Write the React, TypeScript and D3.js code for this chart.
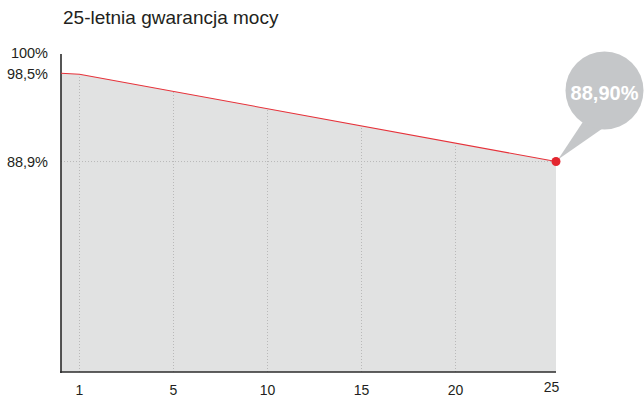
import { useEffect, useRef } from 'react';
import * as d3 from 'd3';

// warranty curve
const years = [0, 1, 25];
const power = [98.5, 98.4, 88.9];

const xTickYears = [1, 5, 10, 15, 20, 25];
const gridYears = [1, 5, 10, 15, 20];
const yTickValues = [98.5, 88.9];
const yTickLabels = ['98,5%', '88,9%'];
const topLabel = '100%';
const title = '25-letnia gwarancja mocy';
const bubbleLabel = '88,90%';

const FONT = '"Liberation Sans", Arial, Helvetica, sans-serif';

export default function App() {
  const svgRef = useRef<SVGSVGElement>(null);
  const width = 644;
  const height = 400;

  useEffect(() => {
    if (!svgRef.current) return;
    const svg = d3.select(svgRef.current);
    svg.selectAll('*').remove();

    // axis is not evenly spaced in the original, first step is short
    const x = d3.scaleLinear().domain([0, 1, 5, 20, 25]).range([61, 79.5, 173.5, 455.5, 556]);
    const y = d3.scaleLinear().domain([66, 100.6]).range([372, 54]);

    const pts = years.map((yr, i) => [yr, power[i]] as [number, number]);

    svg.append('rect').attr('width', width).attr('height', height).attr('fill', '#fff');

    svg
      .append('text')
      .attr('x', 63)
      .attr('y', 24)
      .attr('font-family', FONT)
      .attr('font-size', 19)
      .attr('fill', '#231f20')
      .text(title);

    // area under curve
    const area = d3
      .area<[number, number]>()
      .x((d) => x(d[0]))
      .y0(y.range()[0])
      .y1((d) => y(d[1]));
    svg.append('path').datum(pts).attr('d', area).attr('fill', '#e1e2e2');

    // grid
    const valueAt = (yr: number) => {
      const i = d3.bisectRight(years, yr) - 1;
      const j = Math.min(i + 1, years.length - 1);
      if (i === j) return power[i];
      const t = (yr - years[i]) / (years[j] - years[i]);
      return power[i] + (power[j] - power[i]) * t;
    };
    svg
      .append('g')
      .selectAll('line')
      .data(gridYears)
      .enter()
      .append('line')
      .attr('x1', (d) => x(d))
      .attr('x2', (d) => x(d))
      .attr('y1', y.range()[0])
      .attr('y2', (d) => y(valueAt(d)) + 2)
      .attr('stroke', '#b9b9b9')
      .attr('stroke-width', 1)
      .attr('stroke-dasharray', '1,2');

    svg
      .append('line')
      .attr('x1', x(0))
      .attr('x2', x(25))
      .attr('y1', y(88.9))
      .attr('y2', y(88.9))
      .attr('stroke', '#b9b9b9')
      .attr('stroke-width', 1)
      .attr('stroke-dasharray', '1,2');

    // axes
    svg
      .append('line')
      .attr('x1', x(0))
      .attr('x2', x(0))
      .attr('y1', y.range()[1])
      .attr('y2', y.range()[0] + 1)
      .attr('stroke', '#2b2b2b')
      .attr('stroke-width', 1.6);
    svg
      .append('line')
      .attr('x1', x(0) - 1)
      .attr('x2', x(25))
      .attr('y1', y.range()[0])
      .attr('y2', y.range()[0])
      .attr('stroke', '#2b2b2b')
      .attr('stroke-width', 1.6);

    // y labels
    svg
      .append('g')
      .selectAll('text')
      .data(yTickValues)
      .enter()
      .append('text')
      .attr('x', 48)
      .attr('y', (d) => y(d))
      .attr('dy', '0.36em')
      .attr('text-anchor', 'end')
      .attr('font-family', FONT)
      .attr('font-size', 14.5)
      .attr('fill', '#231f20')
      .text((_, i) => yTickLabels[i]);
    svg
      .append('text')
      .attr('x', 48)
      .attr('y', y.range()[1])
      .attr('dy', '0.3em')
      .attr('text-anchor', 'end')
      .attr('font-family', FONT)
      .attr('font-size', 14.5)
      .attr('fill', '#231f20')
      .text(topLabel);

    // x labels
    svg
      .append('g')
      .selectAll('text')
      .data(xTickYears)
      .enter()
      .append('text')
      .attr('x', (d) => x(d) + (d === 25 ? -4.5 : 0))
      .attr('y', (d) => (d === 25 ? 392 : 395))
      .attr('text-anchor', 'middle')
      .attr('font-family', FONT)
      .attr('font-size', 14)
      .attr('fill', '#231f20')
      .text((d) => String(d));

    // line
    const line = d3
      .line<[number, number]>()
      .x((d) => x(d[0]))
      .y((d) => y(d[1]));
    svg
      .append('path')
      .datum(pts)
      .attr('d', line)
      .attr('fill', 'none')
      .attr('stroke', '#e6323a')
      .attr('stroke-width', 1.1);

    // callout bubble
    const last = pts[pts.length - 1];
    const px = x(last[0]);
    const py = y(last[1]);
    const cx = px + 48.5;
    const cy = py - 71;
    const r = 39;
    const bubble = svg.append('g');
    bubble
      .append('polygon')
      .attr('points', `${cx - 22},${cy + 32} ${cx - 2},${cy + 38} ${px + 2},${py - 2}`)
      .attr('fill', '#c5c7c9');
    bubble.append('circle').attr('cx', cx).attr('cy', cy).attr('r', r).attr('fill', '#c5c7c9');
    bubble
      .append('text')
      .attr('x', cx)
      .attr('y', cy + 2)
      .attr('dy', '0.35em')
      .attr('text-anchor', 'middle')
      .attr('font-family', FONT)
      .attr('font-weight', 'bold')
      .attr('font-size', 20)
      .attr('fill', '#fff')
      .text(bubbleLabel);

    svg.append('circle').attr('cx', px).attr('cy', py).attr('r', 4.5).attr('fill', '#e3262f');
  }, []);

  return (
    <div style={{ position: 'absolute', left: 0, top: 0 }}>
      <svg ref={svgRef} width={width} height={height} style={{ display: 'block' }} />
    </div>
  );
}
